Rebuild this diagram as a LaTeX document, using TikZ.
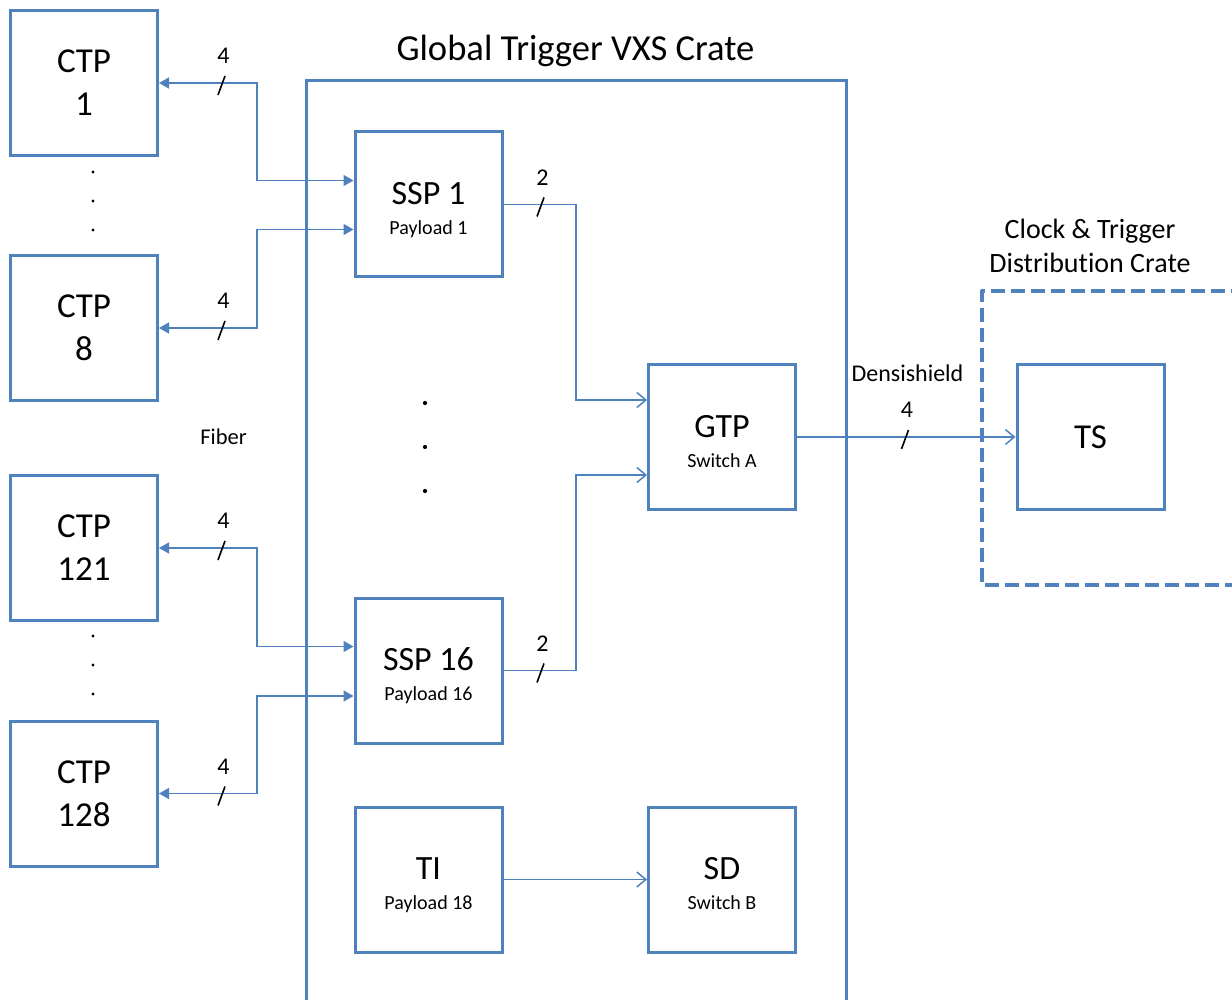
\documentclass[tikz,border=0pt]{standalone}
\usepackage{fontspec}
\setmainfont{Carlito}[Ligatures={NoCommon}]
\usetikzlibrary{arrows.meta}
\definecolor{ob}{HTML}{4F81BD}
\tikzset{
  bx/.style={draw=ob, line width=3pt, minimum width=147pt, minimum height=145pt, inner sep=0pt},
  ctpbox/.style={bx, font=\fontsize{35}{43}\selectfont, align=center},
  titletxt/.style={font=\fontsize{34}{34}\selectfont, inner sep=0pt, anchor=base},
  subtxt/.style={font=\fontsize{20}{20}\selectfont, inner sep=0pt, anchor=base},
  numtxt/.style={font=\fontsize{24}{24}\selectfont, inner sep=0pt},
  plain/.style={inner sep=0pt, anchor=base},
  conn/.style={draw=ob, line width=1.5pt},
  ftip/.tip={Triangle[length=10pt,width=11pt]},
  otip/.tip={Straight Barb[length=9pt,width=15pt,line width=1.5pt]},
  slashl/.style={draw=black, line width=1.6pt},
  dotmark/.style={fill=black},
  pics/bus/.style={code={
    \draw[slashl] (-3.5,12) -- (3.5,-7);
    \node[numtxt] (-n) at (2,-27) {#1};
  }}
}
\begin{document}
\begin{tikzpicture}[x=1pt,y=-1pt]
\useasboundingbox (0,0) rectangle (1232,1000);

% crate outlines
\draw[ob, line width=3pt] (306,1012) -- (306,81) -- (846,81) -- (846,1012);
\node[plain, font=\fontsize{36.6}{36.6}\selectfont] (cratet) at (575.5,61) {Global Trigger VXS Crate};
\draw[ob, line width=4pt, dash pattern=on 14pt off 6pt, line join=round] (1245,291) -- (982,291) -- (982,585) -- (1245,585);
\node[plain, font=\fontsize{28}{28}\selectfont] (ctd1) at (1090,239) {Clock \& Trigger};
\node[plain, font=\fontsize{28}{28}\selectfont] (ctd2) at (1090,273) {Distribution Crate};

% CTP boxes
\node[ctpbox] (ctp1) at (84,83) {CTP\\1};
\node[ctpbox] (ctp8) at (84,328) {CTP\\8};
\node[ctpbox] (ctp121) at (84,548) {CTP\\121};
\node[ctpbox] (ctp128) at (84,793.5) {CTP\\128};

% vertical dots
\foreach \yy in {172,201,230,636,665,694} \fill[dotmark] (93,\yy) circle (1.6pt);
\foreach \yy in {403,447,491} \fill[dotmark] (425,\yy) circle (2.1pt);

\node[plain, font=\fontsize{22.5}{22.5}\selectfont] (fiber) at (223.5,444) {Fiber};

% crate boards
\node[bx] (ssp1) at (428.5,204.5) {};
\node[titletxt] (ssp1t) at (ssp1.center) {SSP 1};
\node[subtxt] (ssp1s) at ([yshift=-30pt]ssp1.center) {Payload 1};

\node[bx] (ssp16) at (428.5,670.5) {};
\node[titletxt] (ssp16t) at (ssp16.center) {SSP 16};
\node[subtxt] (ssp16s) at ([yshift=-30pt]ssp16.center) {Payload 16};

\node[bx] (ti) at (428.5,879.5) {};
\node[titletxt] (tit) at (ti.center) {TI};
\node[subtxt] (tis) at ([yshift=-30pt]ti.center) {Payload 18};

\node[bx] (gtp) at (722,437) {};
\node[titletxt] (gtpt) at (gtp.center) {GTP};
\node[subtxt] (gtps) at ([yshift=-30pt]gtp.center) {Switch A};

\node[bx] (sd) at (722,879.5) {};
\node[titletxt] (sdt) at (sd.center) {SD};
\node[subtxt] (sds) at ([yshift=-30pt]sd.center) {Switch B};

\node[bx, font=\fontsize{35}{35}\selectfont] (ts) at (1090.5,437) {TS};

% helper coordinates
\coordinate (bx) at (257,0);
\coordinate (gx) at (576,0);
\coordinate (ssp1a) at ([yshift=24pt]ssp1.west);
\coordinate (ssp1b) at ([yshift=-25pt]ssp1.west);
\coordinate (ssp16a) at ([yshift=24pt]ssp16.west);
\coordinate (ssp16b) at ([yshift=-25.5pt]ssp16.west);
\coordinate (gtpa) at ([yshift=37pt]gtp.west);
\coordinate (gtpb) at ([yshift=-38pt]gtp.west);

% fiber connectors
\draw[conn, ftip-ftip] (ctp1.east) -| (bx |- ssp1a) -- (ssp1a);
\draw[conn, ftip-ftip] (ctp8.east) -| (bx |- ssp1b) -- (ssp1b);
\draw[conn, ftip-ftip] (ctp121.east) -| (bx |- ssp16a) -- (ssp16a);
\draw[conn, ftip-ftip] (ctp128.east) -| (bx |- ssp16b) -- (ssp16b);
\pic (b1) at ([xshift=62.5pt]ctp1.east) {bus=4};
\pic (b8) at ([xshift=62.5pt]ctp8.east) {bus=4};
\pic (b121) at ([xshift=62.5pt]ctp121.east) {bus=4};
\pic (b128) at ([xshift=62.5pt]ctp128.east) {bus=4};

% SSP to GTP
\draw[conn, -otip] (ssp1.east) -| (gx |- gtpa) -- (gtpa);
\draw[conn, -otip] (ssp16.east) -| (gx |- gtpb) -- (gtpb);
\pic (s1) at ([xshift=37pt]ssp1.east) {bus=2};
\pic (s16) at ([xshift=37pt]ssp16.east) {bus=2};

% GTP to TS
\draw[conn, -otip] (gtp.east) -- (ts.west);
\pic (d4) at ([xshift=108pt]gtp.east) {bus=4};
\node[plain, font=\fontsize{24}{24}\selectfont] (dens) at (907.5,381.5) {Densishield};

% TI to SD
\draw[conn, -otip] (ti.east) -- (sd.west);
\end{tikzpicture}
\end{document}
